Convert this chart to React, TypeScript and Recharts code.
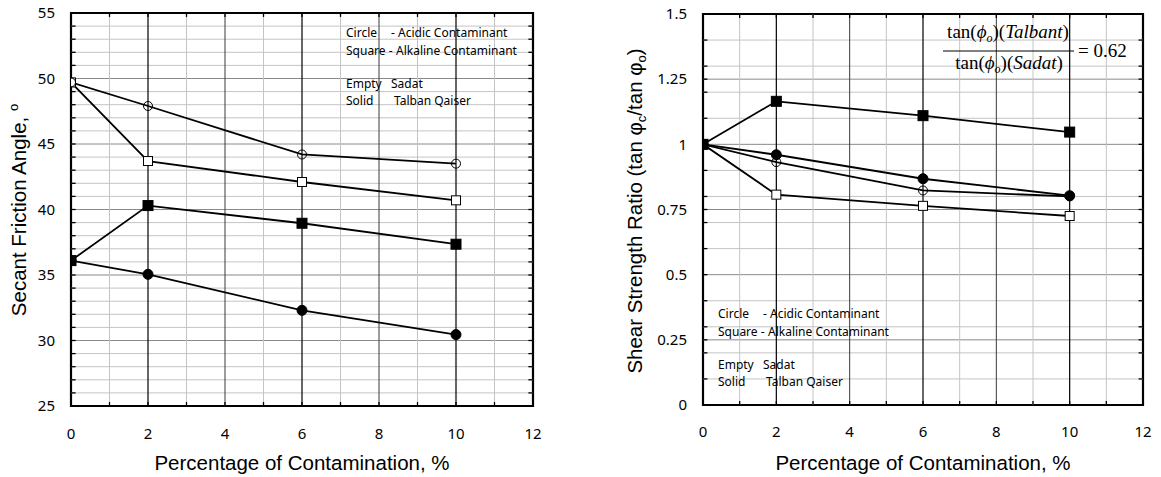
import React from 'react';
import { LineChart, Line, XAxis, YAxis, ReferenceLine, ReferenceArea } from 'recharts';

// ---------- data ----------
const contamination = [0, 2, 6, 10];
const xTicks = [0, 2, 4, 6, 8, 10, 12];
const angleTicks = [25, 30, 35, 40, 45, 50, 55];
const ratioTicks = [0, 0.25, 0.5, 0.75, 1, 1.25, 1.5];

const sadatAcidicAngle = [49.7, 47.9, 44.2, 43.5];
const sadatAlkalineAngle = [49.7, 43.7, 42.1, 40.7];
const talbanAcidicAngle = [36.1, 35.05, 32.3, 30.45];
const talbanAlkalineAngle = [36.1, 40.3, 38.95, 37.35];

const sadatAcidicRatio = [1.0, 0.932, 0.823, 0.8];
const sadatAlkalineRatio = [1.0, 0.807, 0.764, 0.725];
const talbanAcidicRatio = [1.0, 0.96, 0.868, 0.803];
const talbanAlkalineRatio = [1.0, 1.165, 1.11, 1.047];

const angleMinor = [26, 27, 28, 29, 31, 32, 33, 34, 36, 37, 38, 39, 41, 42, 43, 44, 46, 47, 48, 49, 51, 52, 53, 54];
const angleMajor = [30, 35, 40, 45, 50];
const ratioMinor = [0.1, 0.2, 0.3, 0.4, 0.6, 0.7, 0.8, 0.9, 1.1, 1.2, 1.3, 1.4];
const ratioMajor = [0.25, 0.5, 0.75, 1, 1.25];
const xMinor = [1, 3, 5, 7, 9, 11];
const xMajor = [4, 8];
const xSampled = [2, 6, 10];

const angleData = contamination.map((x, i) => ({
  x,
  sAc: sadatAcidicAngle[i],
  sAl: sadatAlkalineAngle[i],
  tAc: talbanAcidicAngle[i],
  tAl: talbanAlkalineAngle[i],
}));
const ratioData = contamination.map((x, i) => ({
  x,
  sAc: sadatAcidicRatio[i],
  sAl: sadatAlkalineRatio[i],
  tAc: talbanAcidicRatio[i],
  tAl: talbanAlkalineRatio[i],
}));

// ---------- markers ----------
const OpenCircle = (p: any) => (
  <circle key={p.key} cx={p.cx} cy={p.cy} r={4.5} fill="none" stroke="#000" strokeWidth={1} />
);
const SolidCircle = (p: any) => (
  <circle key={p.key} cx={p.cx} cy={p.cy} r={5} fill="#000" stroke="#000" strokeWidth={1} />
);
const OpenSquare = (p: any) => (
  <rect key={p.key} x={p.cx - 4.5} y={p.cy - 4.5} width={9} height={9} fill="#fff" stroke="#000" strokeWidth={1} />
);
const SolidSquare = (p: any) => (
  <rect key={p.key} x={p.cx - 5} y={p.cy - 5} width={10} height={10} fill="#000" stroke="#000" strokeWidth={1} />
);

const MINOR = '#c4c4c4';
const MAJOR = '#8a8a8a';
const XMAJ = '#3a3a3a';

function grid(minorY: number[], majorY: number[], pre: string) {
  const els: any[] = [];
  minorY.forEach((v) => els.push(<ReferenceLine key={pre + 'hm' + v} y={v} stroke={MINOR} strokeWidth={1} />));
  majorY.forEach((v) => els.push(<ReferenceLine key={pre + 'hM' + v} y={v} stroke={MAJOR} strokeWidth={1} />));
  xMinor.forEach((v) => els.push(<ReferenceLine key={pre + 'vm' + v} x={v} stroke={MINOR} strokeWidth={1} />));
  xMajor.forEach((v) => els.push(<ReferenceLine key={pre + 'vM' + v} x={v} stroke={XMAJ} strokeWidth={1} />));
  xSampled.forEach((v) => els.push(<ReferenceLine key={pre + 'vs' + v} x={v} stroke="#000" strokeWidth={1.2} />));
  return els;
}

function ticks(yMin: number, yMax: number, allY: number[], dx: number, dy: number, pre: string) {
  const els: any[] = [];
  allY.forEach((v) => {
    els.push(<ReferenceLine key={pre + 'tl' + v} segment={[{ x: 0, y: v }, { x: dx, y: v }]} stroke="#000" strokeWidth={1.3} />);
    els.push(<ReferenceLine key={pre + 'tr' + v} segment={[{ x: 12, y: v }, { x: 12 - dx, y: v }]} stroke="#000" strokeWidth={1.3} />);
  });
  [1, 2, 3, 4, 5, 6, 7, 8, 9, 10, 11].forEach((v) => {
    els.push(<ReferenceLine key={pre + 'tt' + v} segment={[{ x: v, y: yMax }, { x: v, y: yMax - dy }]} stroke="#000" strokeWidth={1.3} />);
    els.push(<ReferenceLine key={pre + 'tb' + v} segment={[{ x: v, y: yMin }, { x: v, y: yMin + dy }]} stroke="#000" strokeWidth={1.3} />);
  });
  return els;
}

const tickStyle = { fontSize: 15, fill: '#000', fontFamily: 'Noto Sans' };

const series = (pre: string) => [
  <Line key={pre + 'sAl'} dataKey="sAl" type="linear" stroke="#000" strokeWidth={1.8} dot={OpenSquare} isAnimationActive={false} />,
  <Line key={pre + 'sAc'} dataKey="sAc" type="linear" stroke="#000" strokeWidth={1.8} dot={OpenCircle} isAnimationActive={false} />,
  <Line key={pre + 'tAc'} dataKey="tAc" type="linear" stroke="#000" strokeWidth={1.8} dot={SolidCircle} isAnimationActive={false} />,
  <Line key={pre + 'tAl'} dataKey="tAl" type="linear" stroke="#000" strokeWidth={1.8} dot={SolidSquare} isAnimationActive={false} />,
];

const legendFont = { fontFamily: 'Noto Sans', fontSize: 12, fill: '#000' } as any;
const titleFont = { fontFamily: 'Liberation Sans', fontSize: 20.5, fill: '#000' } as any;
const serif = { fontFamily: 'Liberation Serif', fontSize: 19, fill: '#000' } as any;

function LegendText({ x, y }: { x: number; y: number }) {
  return (
    <g>
      <text x={x} y={y} {...legendFont}>Circle</text>
      <text x={x + 45} y={y} {...legendFont}>- Acidic Contaminant</text>
      <text x={x} y={y + 18} {...legendFont}>Square -</text>
      <text x={x + 50} y={y + 18} {...legendFont}>Alkaline Contaminant</text>
      <text x={x} y={y + 51} {...legendFont}>Empty</text>
      <text x={x + 45} y={y + 51} {...legendFont}>Sadat</text>
      <text x={x} y={y + 68} {...legendFont}>Solid</text>
      <text x={x + 48} y={y + 68} {...legendFont}>Talban Qaiser</text>
    </g>
  );
}

export default function App() {
  return (
    <div style={{ position: 'absolute', left: 0, top: 0, width: 1161, height: 477, background: '#fff' }}>
      <div style={{ position: 'absolute', left: 0, top: 0, width: 560, height: 477 }}>
        <LineChart width={560} height={477} data={angleData} margin={{ top: 13, right: 27, left: 0, bottom: 0 }}>
          <XAxis dataKey="x" type="number" domain={[0, 12]} ticks={xTicks} interval={0} height={71}
            axisLine={false} tickLine={false} tickSize={0} tickMargin={22} tick={tickStyle} allowDataOverflow />
          <YAxis type="number" domain={[25, 55]} ticks={angleTicks} interval={0} width={71}
            axisLine={false} tickLine={false} tickSize={0} tickMargin={16} tick={tickStyle} allowDataOverflow />
          {grid(angleMinor, angleMajor, 'L')}
          <ReferenceArea x1={6.91} x2={12} y1={47.2} y2={55} fill="#fff" fillOpacity={1} stroke="none" />
          {ticks(25, 55, [...angleMinor, ...angleMajor], 0.12, 0.3, 'L')}
          <ReferenceArea x1={0} x2={12} y1={25} y2={55} fill="none" stroke="#000" strokeWidth={2.2} />
          {series('L')}
        </LineChart>
      </div>
      <div style={{ position: 'absolute', left: 580, top: 0, width: 581, height: 477 }}>
        <LineChart width={581} height={477} data={ratioData} margin={{ top: 14, right: 18, left: 0, bottom: 0 }}>
          <XAxis dataKey="x" type="number" domain={[0, 12]} ticks={xTicks} interval={0} height={72}
            axisLine={false} tickLine={false} tickSize={0} tickMargin={21} tick={tickStyle} allowDataOverflow />
          <YAxis type="number" domain={[0, 1.5]} ticks={ratioTicks} interval={0} width={123}
            axisLine={false} tickLine={false} tickSize={0} tickMargin={16} tick={tickStyle} allowDataOverflow />
          {grid(ratioMinor, ratioMajor, 'R')}
          <ReferenceArea x1={0} x2={5.3} y1={0} y2={0.395} fill="#fff" fillOpacity={1} stroke="none" />
          <ReferenceArea x1={6.45} x2={12} y1={1.245} y2={1.5} fill="#fff" fillOpacity={1} stroke="none" />
          {ticks(0, 1.5, [...ratioMinor, ...ratioMajor], 0.12, 0.015, 'R')}
          <ReferenceArea x1={0} x2={12} y1={0} y2={1.5} fill="none" stroke="#000" strokeWidth={2.2} />
          {series('R')}
        </LineChart>
      </div>
      <svg width={1161} height={477} style={{ position: 'absolute', left: 0, top: 0, pointerEvents: 'none' }}>
        <text x={302} y={470} textAnchor="middle" {...titleFont}>Percentage of Contamination, %</text>
        <text x={923} y={470} textAnchor="middle" {...titleFont}>Percentage of Contamination, %</text>
        <text transform="translate(26,210) rotate(-90)" textAnchor="middle" {...titleFont}>
          Secant Friction Angle, <tspan fontSize={13} dy={-8}>o</tspan>
        </text>
        <text transform="translate(642,211) rotate(-90)" textAnchor="middle" {...titleFont}>
          Shear Strength Ratio (tan φ<tspan fontSize={13} dy={4}>c</tspan><tspan dy={-4}>/tan φ</tspan><tspan fontSize={13} dy={4}>o</tspan><tspan dy={-4}>)</tspan>
        </text>
        <LegendText x={346} y={37} />
        <LegendText x={718} y={318} />
        <text x={1008} y={38} textAnchor="middle" {...serif}>
          tan(<tspan fontStyle="italic">ϕ</tspan><tspan fontStyle="italic" fontSize={12} dy={4}>o</tspan><tspan dy={-4}>)(</tspan><tspan fontStyle="italic">Talbant</tspan>)
        </text>
        <line x1={943} x2={1074} y1={51} y2={51} stroke="#000" strokeWidth={1} />
        <text x={1009} y={69} textAnchor="middle" {...serif}>
          tan(<tspan fontStyle="italic">ϕ</tspan><tspan fontStyle="italic" fontSize={12} dy={4}>o</tspan><tspan dy={-4}>)(</tspan><tspan fontStyle="italic">Sadat</tspan>)
        </text>
        <text x={1078} y={57} {...serif}>= 0.62</text>
      </svg>
    </div>
  );
}
